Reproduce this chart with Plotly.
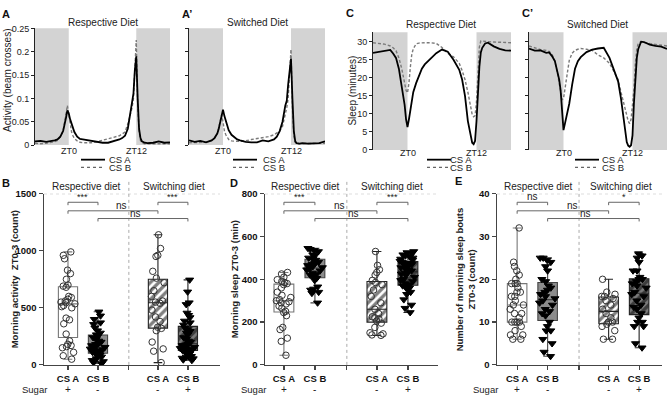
import numpy as np
import plotly.graph_objects as go

W, H = 669, 401
FONT = "Arial, Liberation Sans, Helvetica, sans-serif"

# ---------------- time-course data (top row) ----------------
HOURS = [-6, -5, -4, -3,
         -2.5, -2, -1.5, -1,
         -0.75, -0.5, -0.25, 0,
         0.25, 0.5, 0.75, 1,
         1.5, 2, 2.5, 3,
         4, 5, 6, 7,
         8, 9, 9.5, 10,
         10.5, 11, 11.25, 11.5,
         11.75, 12, 12.25, 12.5,
         12.75, 13, 13.5, 14,
         15, 16, 17, 18]

ACT_RESP_CSA = [.008, .009, .007, .008,
                .010, .012, .018, .030,
                .042, .058, .074, .068,
                .055, .045, .035, .028,
                .018, .013, .012, .011,
                .008, .006, .005, .005,
                .008, .012, .015, .020,
                .035, .075, .088, .110,
                .160, .190, .100, .035,
                .015, .008, .005, .004,
                .005, .008, .005, .006]
ACT_RESP_CSB = [.004, .003, .004, .005,
                .007, .010, .018, .032,
                .045, .065, .085, .065,
                .040, .028, .020, .014,
                .009, .006, .005, .005,
                .005, .007, .010, .013,
                .016, .020, .024, .028,
                .045, .065, .080, .100,
                .160, .225, .090, .030,
                .010, .005, .003, .003,
                .003, .004, .003, .003]
ACT_SWIT_CSA = [.010, .007, .009, .006,
                .008, .010, .015, .025,
                .035, .050, .068, .076,
                .062, .050, .040, .032,
                .022, .016, .012, .010,
                .007, .006, .006, .010,
                .008, .012, .018, .030,
                .050, .085, .095, .130,
                .165, .185, .100, .030,
                .008, .004, .003, .004,
                .003, .004, .004, .008]
ACT_SWIT_CSB = [.005, .005, .006, .006,
                .008, .010, .015, .025,
                .038, .052, .065, .050,
                .030, .022, .016, .012,
                .009, .008, .008, .008,
                .009, .012, .014, .016,
                .018, .022, .026, .030,
                .040, .065, .080, .100,
                .160, .205, .080, .020,
                .006, .003, .003, .003,
                .003, .003, .003, .004]

SLEEP_RESP_CSA = [26.9, 27.2, 27.4, 27.7,
                  26.7, 25.5, 22.5, 18.0,
                  15.5, 12.5, 8.5, 6.3,
                  8.5, 11.5, 14.0, 16.0,
                  18.5, 20.5, 22.5, 23.7,
                  25.3, 26.8, 27.8, 27.2,
                  25.0, 22.2, 19.5, 15.0,
                  8.0, 3.5, 2.0, 1.6,
                  2.5, 8.0, 17.0, 23.0,
                  27.0, 28.3, 29.5, 29.7,
                  28.7, 28.0, 27.6, 27.5]
SLEEP_RESP_CSB = [29.7, 29.5, 29.3, 28.8,
                  28.3, 27.5, 25.5, 22.5,
                  20.5, 18.3, 16.5, 15.8,
                  18.5, 23.0, 26.5, 28.0,
                  29.4, 29.6, 29.7, 29.7,
                  29.7, 29.5, 28.4, 26.8,
                  25.8, 24.0, 22.0, 19.5,
                  16.0, 11.0, 9.8, 9.2,
                  9.5, 13.3, 23.0, 28.5,
                  30.2, 30.2, 30.1, 30.0,
                  29.9, 29.8, 29.7, 29.7]
SLEEP_SWIT_CSA = [28.1, 27.5, 27.6, 26.9,
                  27.0, 26.0, 24.6, 21.5,
                  19.5, 16.5, 10.0, 5.5,
                  7.3, 9.3, 11.0, 12.8,
                  18.0, 22.5, 24.6, 25.7,
                  27.1, 27.8, 28.1, 28.3,
                  25.5, 21.5, 19.0, 14.2,
                  7.5, 2.2, 1.2, 0.9,
                  1.3, 4.0, 13.0, 21.0,
                  25.5, 28.0, 30.0, 29.9,
                  29.2, 28.8, 28.6, 28.0]
SLEEP_SWIT_CSB = [28.8, 28.3, 27.8, 27.6,
                  27.3, 26.5, 24.6, 20.8,
                  18.5, 16.0, 13.9, 14.2,
                  17.0, 20.5, 23.0, 24.8,
                  26.8, 27.6, 27.9, 28.1,
                  27.9, 27.6, 26.3, 25.5,
                  24.0, 21.0, 19.5, 16.0,
                  12.5, 9.1, 8.0, 7.3,
                  8.5, 12.5, 17.0, 24.0,
                  28.0, 29.5, 30.0, 29.7,
                  29.5, 29.2, 29.0, 28.8]

ACT_TICKS = [0, 0.05, 0.1, 0.15, 0.2, 0.25]
ACT_TICK_TEXT = ["0", "0.05", "0.1", "0.15", "0.2", "0.25"]
SLEEP_TICKS = [0, 5, 10, 15, 20, 25, 30]
ZT_TICKS = [0, 12]
ZT_TEXT = ["ZT0", "ZT12"]

# ---------------- box-plot data (bottom row) ----------------
CAT_POS = [1, 2, 4, 5]
CAT_LABELS = ["CS A", "CS B", "CS A", "CS B"]
SUGAR = ["+", "-", "-", "+"]
GROUPS = ["Respective diet", "Switching diet"]

ACTIVITY_CSA_RESP = [990, 960, 930, 830, 800, 750, 700, 690, 680, 600, 590, 575, 560, 550, 545,
                     535, 520, 510, 500, 410, 395, 360, 270, 210, 180, 170, 160, 150, 110, 80, 50]
ACTIVITY_CSB_RESP = [465, 430, 400, 370, 355, 325, 300, 280, 265, 255, 240, 225, 210, 200, 185, 180, 170,
                     160, 155, 150, 140, 135, 125, 120, 110, 100, 85, 75, 70, 55, 40, 30, 20, 12]
ACTIVITY_CSA_SW = [1140, 1020, 960, 950, 820, 760, 720, 650, 600, 560, 550, 540, 480, 420, 380, 330,
                   320, 300, 200, 140, 120, 20]
ACTIVITY_CSB_SW = [745, 640, 545, 530, 455, 435, 415, 385, 370, 350, 325, 310, 295, 280, 265, 240, 225,
                   210, 200, 185, 175, 170, 160, 155, 150, 145, 140, 135, 130, 125, 110, 100, 85, 75,
                   70, 60, 55, 45, 40]

SLEEP03_CSA_RESP = [432, 425, 410, 398, 390, 385, 380, 375, 360, 340, 325, 315, 305, 300, 295, 290,
                    285, 275, 265, 250, 245, 230, 175, 165, 125, 110, 45]
SLEEP03_CSB_RESP = [545, 540, 535, 530, 515, 510, 500, 495, 490, 480, 475, 470, 465, 460, 455, 450,
                    445, 440, 430, 425, 420, 415, 405, 395, 365, 355, 350, 340, 335, 290]
SLEEP03_CSA_SW = [530, 465, 445, 432, 420, 395, 385, 375, 350, 320, 290, 260, 240, 225, 220, 215, 205,
                  195, 175, 150, 145, 140, 138]
SLEEP03_CSB_SW = [530, 525, 520, 515, 510, 505, 500, 495, 490, 485, 480, 475, 470, 465, 460, 455, 450,
                  445, 440, 435, 430, 425, 420, 410, 400, 395, 390, 380, 375, 370, 365, 360, 350, 340,
                  330, 305, 280, 265, 245]

BOUTS_CSA_RESP = [32, 24, 23, 22, 21, 20, 19, 19, 19, 18, 17, 17, 16, 16, 15, 14, 14, 13, 12, 12, 11,
                  10, 10, 10, 10, 9, 8, 7, 7, 6, 6]
BOUTS_CSB_RESP = [25, 25, 24.5, 24, 23, 22, 20, 19.5, 18.5, 18, 17.5, 17, 16.5, 16, 15.5, 15, 14.5,
                  14, 13, 12.5, 12, 11.5, 10, 9, 8, 8, 6, 5, 3, 2]
BOUTS_CSA_SW = [20, 17, 16.5, 16, 16, 15.5, 15, 14, 13, 12, 11, 10, 10, 9.5, 9, 8, 6, 6]
BOUTS_CSB_SW = [26, 25.5, 25, 24, 22, 22, 20.5, 20, 20, 19.5, 19, 18.5, 18, 17, 16.5, 16, 15, 14,
                13.5, 13, 12, 11, 10, 10, 9, 9, 5, 4]

B_TICKS = [0, 500, 1000, 1500]
D_TICKS = [0, 200, 400, 600, 800]
E_TICKS = [0, 10, 20, 30, 40]

# comparisons: (group a, group b, label, label position)
COMPARISONS_BD = [(1, 2, "***", 1.5), (4, 5, "***", 4.5), (1, 4, "ns", 2.8), (2, 5, "ns", 3.25)]
COMPARISONS_E = [(1, 2, "ns", 1.5), (4, 5, "*", 4.5), (1, 4, "ns", 2.8), (2, 5, "ns", 3.25)]
BRACKET_LEVELS = [0.95, 0.95, 0.90, 0.855]

# ---------------- helpers ----------------
def dom_x(a, b):
    return [a / W, b / W]


def dom_y(top, bottom):
    return [(H - bottom) / H, (H - top) / H]


def px(xp, yp):
    return xp / W, (H - yp) / H


fig = go.Figure()
layout = dict(
    width=W, height=H, margin=dict(l=0, r=0, t=0, b=0), autosize=False,
    paper_bgcolor="white", plot_bgcolor="white", showlegend=False,
    font=dict(family=FONT, color="#222", size=10), barmode="overlay",
)
shapes = []
annos = []


def ann(text, xp, yp, size=10, bold=False, angle=0, xanchor="center", color="#222"):
    x, y = px(xp, yp)
    annos.append(dict(text=text, x=x, y=y, xref="paper", yref="paper", showarrow=False,
                      xanchor=xanchor, yanchor="middle", textangle=angle,
                      font=dict(family=FONT, size=size, color=color,
                                weight="bold" if bold else "normal")))


# ---------------- top row ----------------
top_panels = [
    dict(i=1, xd=(35, 170), yd=(23, 143), a=ACT_RESP_CSA, b=ACT_RESP_CSB, yr=[0, 0.25],
         tv=ACT_TICKS, tt=ACT_TICK_TEXT, lab=True, title="Respective Diet", tx=103, ty=17, zy=149),
    dict(i=2, xd=(189, 325), yd=(23, 143), a=ACT_SWIT_CSA, b=ACT_SWIT_CSB, yr=[0, 0.25],
         tv=ACT_TICKS, tt=ACT_TICK_TEXT, lab=False, title="Switched Diet", tx=257, ty=17, zy=149),
    dict(i=3, xd=(373, 511), yd=(27, 148), a=SLEEP_RESP_CSA, b=SLEEP_RESP_CSB, yr=[0, 32.6],
         tv=SLEEP_TICKS, tt=[str(v) for v in SLEEP_TICKS], lab=True, title="Respective Diet", tx=441, ty=19, zy=151),
    dict(i=4, xd=(529, 667), yd=(27, 148), a=SLEEP_SWIT_CSA, b=SLEEP_SWIT_CSB, yr=[0, 32.6],
         tv=SLEEP_TICKS, tt=[str(v) for v in SLEEP_TICKS], lab=False, title="Switched Diet", tx=597, ty=19, zy=151),
]

for p in top_panels:
    s = "" if p["i"] == 1 else str(p["i"])
    xr, yr_ = "x" + s, "y" + s
    layout["xaxis" + s] = dict(domain=dom_x(*p["xd"]), range=[-6, 18], anchor=yr_,
                               showgrid=False, zeroline=False, showline=False,
                               showticklabels=False, ticks="")
    layout["yaxis" + s] = dict(domain=dom_y(*p["yd"]), range=p["yr"], anchor=xr,
                               showgrid=False, zeroline=False, showline=True,
                               linecolor="#222", linewidth=1, ticks="outside", ticklen=3,
                               tickcolor="#222", tickvals=p["tv"], ticktext=p["tt"],
                               showticklabels=p["lab"], tickfont=dict(size=9, color="#222"))
    for x0, x1 in [(-6, 0), (12, 18)]:
        shapes.append(dict(type="rect", xref=xr, yref=yr_ + " domain", x0=x0, x1=x1, y0=0, y1=1,
                           fillcolor="#d3d3d3", line=dict(width=0), layer="below"))
    fig.add_trace(go.Scatter(x=HOURS, y=p["b"], mode="lines", xaxis=xr, yaxis=yr_,
                             line=dict(color="#7a7a7a", width=1.4, dash="3px,2px")))
    fig.add_trace(go.Scatter(x=HOURS, y=p["a"], mode="lines", xaxis=xr, yaxis=yr_,
                             line=dict(color="black", width=1.8)))
    ann(p["title"], p["tx"], p["ty"], size=10)
    # ZT markers (placed at data positions on the time axis)
    for zv, zt in zip(ZT_TICKS, ZT_TEXT):
        annos.append(dict(text=zt, x=zv, y=(H - p["zy"]) / H, xref=xr, yref="paper", showarrow=False,
                          xanchor="center", yanchor="middle", font=dict(family=FONT, size=9, color="#222")))

# legends under top panels
for lx, tx in [(81, 107), (233, 261), (427, 448), (575, 600)]:
    for yy, dash, col, w, lab in [(158, "solid", "black", 1.8, "CS A"), (166, "dot", "#666", 1.2, "CS B")]:
        x0, y0 = px(lx, yy)
        x1, _ = px(lx + 24, yy)
        shapes.append(dict(type="line", xref="paper", yref="paper", x0=x0, x1=x1, y0=y0, y1=y0,
                           line=dict(color=col, width=w, dash=dash)))
        ann(lab, tx, yy, size=9.5, xanchor="left")

ann("Activity (beam crosses)", 8, 77, size=10, angle=-90)
ann("Sleep (minutes)", 353, 87, size=10, angle=-90)

# ---------------- bottom row ----------------
STYLES = [
    dict(fill="white", line="#777", hatch=None, sym="circle-open", mcol="#333"),
    dict(fill="#8c8c8c", line="#444", hatch=None, sym="triangle-down", mcol="black"),
    dict(fill="white", line="#222", hatch="white", sym="circle-open", mcol="#333"),
    dict(fill="#7a7a7a", line="#222", hatch="#7a7a7a", sym="triangle-down", mcol="black"),
]

bottom_panels = [
    dict(i=5, xd=(44, 220), xr=[0.2, 6.07], data=[ACTIVITY_CSA_RESP, ACTIVITY_CSB_RESP, ACTIVITY_CSA_SW, ACTIVITY_CSB_SW],
         ticks=B_TICKS, comps=COMPARISONS_BD, ytitle="Morning activity  ZT0-3 (count)", yt_x=14, sugar_x=34),
    dict(i=6, xd=(265, 438), xr=[0.39, 5.97], data=[SLEEP03_CSA_RESP, SLEEP03_CSB_RESP, SLEEP03_CSA_SW, SLEEP03_CSB_SW],
         ticks=D_TICKS, comps=COMPARISONS_BD, ytitle="Morning sleep ZT0-3 (min)", yt_x=234, sugar_x=253),
    dict(i=7, xd=(497, 662), xr=[0.34, 5.75], data=[BOUTS_CSA_RESP, BOUTS_CSB_RESP, BOUTS_CSA_SW, BOUTS_CSB_SW],
         ticks=E_TICKS, comps=COMPARISONS_E, ytitle="Number of morning sleep bouts<br>ZT0-3 (count)", yt_x=465, sugar_x=485),
]
DIVIDER = 3.03
BOX_W = 0.64
PLOT_TOP, PLOT_BOTTOM = 193, 369

for p in bottom_panels:
    s = str(p["i"])
    xr, yr_ = "x" + s, "y" + s
    ymax = p["ticks"][-1]
    layout["xaxis" + s] = dict(domain=dom_x(*p["xd"]), range=p["xr"], anchor=yr_,
                               showgrid=False, zeroline=False, showline=True, linecolor="#444",
                               linewidth=1.5, ticks="outside", ticklen=4, tickwidth=1.2, tickcolor="#444",
                               tickvals=CAT_POS[:2] + [DIVIDER] + CAT_POS[2:],
                               ticktext=["<b>%s</b>" % c for c in CAT_LABELS[:2]] + [""] +
                                        ["<b>%s</b>" % c for c in CAT_LABELS[2:]],
                               tickfont=dict(size=9.5, color="#111"))
    layout["yaxis" + s] = dict(domain=dom_y(PLOT_TOP, PLOT_BOTTOM), range=[0, ymax], anchor=xr,
                               showgrid=False, zeroline=False, showline=True, linecolor="#444",
                               linewidth=1.5, ticks="outside", ticklen=4, tickwidth=1.2, tickcolor="#444",
                               tickvals=p["ticks"], ticktext=["<b>%s</b>" % v for v in p["ticks"]],
                               tickfont=dict(size=9.5, color="#111"))

    for pos, vals, st in zip(CAT_POS, p["data"], STYLES):
        arr = np.asarray(vals, dtype=float)
        q1, med, q3 = np.percentile(arr, [25, 50, 75])
        if st["hatch"] is not None:
            fig.add_trace(go.Bar(x=[pos], y=[q3 - q1], base=[q1], width=BOX_W, xaxis=xr, yaxis=yr_,
                                 marker=dict(color=st["hatch"], line=dict(width=0),
                                             pattern=dict(shape="/", fgcolor="black", bgcolor=st["hatch"],
                                                          size=6, solidity=0.55))))
        fig.add_trace(go.Box(x=[pos], q1=[q1], median=[med], q3=[q3],
                             lowerfence=[arr.min()], upperfence=[arr.max()],
                             width=BOX_W, whiskerwidth=0.45, boxpoints=False, xaxis=xr, yaxis=yr_,
                             fillcolor="rgba(0,0,0,0)" if st["hatch"] is not None else st["fill"],
                             line=dict(color=st["line"], width=1.1)))
        fig.add_trace(go.Box(x=[pos] * len(arr), y=arr, boxpoints="all", jitter=0.85, pointpos=0,
                             width=BOX_W, xaxis=xr, yaxis=yr_, fillcolor="rgba(0,0,0,0)",
                             line=dict(color="rgba(0,0,0,0)", width=0),
                             marker=dict(symbol=st["sym"], size=7 if "triangle" in st["sym"] else 6.5,
                                         color=st["mcol"], line=dict(width=1, color=st["mcol"]))))

    # dotted guides
    shapes.append(dict(type="line", xref=xr + " domain", yref=yr_, x0=0, x1=1, y0=ymax, y1=ymax,
                       line=dict(color="#aaa", width=1, dash="dot")))
    shapes.append(dict(type="line", xref=xr, yref=yr_ + " domain", x0=DIVIDER, x1=DIVIDER, y0=0, y1=1.075,
                       line=dict(color="#aaa", width=1, dash="dot")))

    # significance brackets
    tick = 3.0 / (PLOT_BOTTOM - PLOT_TOP) * ymax
    for (a, b, lab, lx), lev in zip(p["comps"], BRACKET_LEVELS):
        yv = lev * ymax
        shapes.append(dict(type="path", xref=xr, yref=yr_, line=dict(color="#666", width=1),
                           path="M %s,%s L %s,%s L %s,%s L %s,%s" % (a, yv - tick, a, yv, b, yv, b, yv - tick)))
        annos.append(dict(text=lab, x=lx, y=yv, xref=xr, yref=yr_, showarrow=False,
                          xanchor="center", yanchor="bottom", yshift=-2,
                          font=dict(family=FONT, size=10 if lab == "ns" else 9, color="#222")))

    # group titles
    lo, hi = p["xr"]
    for gx, g in zip([(lo + DIVIDER) / 2, (DIVIDER + hi) / 2], GROUPS):
        annos.append(dict(text=g, x=gx, y=(H - 186) / H, xref=xr, yref="paper", showarrow=False,
                          xanchor="center", yanchor="middle", font=dict(family=FONT, size=10, color="#222")))
    # sugar row
    for pos, sg in zip(CAT_POS, SUGAR):
        annos.append(dict(text=sg, x=pos, y=(H - 394) / H, xref=xr, yref="paper", showarrow=False,
                          xanchor="center", yanchor="middle", font=dict(family=FONT, size=10, color="#222")))
    ann("Sugar", p["sugar_x"], 394, size=9.5)
    ann(p["ytitle"], p["yt_x"], 281, size=9.5, bold=True, angle=-90)

# panel letters
for t, xx, yy in [("A", 6, 8), ("A\u2019", 187, 8), ("C", 350, 7), ("C\u2019", 527, 7),
                  ("B", 6, 182), ("D", 234, 182), ("E", 458, 180)]:
    ann(t, xx, yy, size=11, bold=True, color="#111")

layout["shapes"] = shapes
layout["annotations"] = annos
fig.update_layout(**layout)
fig.write_html("out.html", config={"displayModeBar": False, "staticPlot": True},
               post_script="document.body.style.margin='0px';document.body.style.overflow='hidden';")
